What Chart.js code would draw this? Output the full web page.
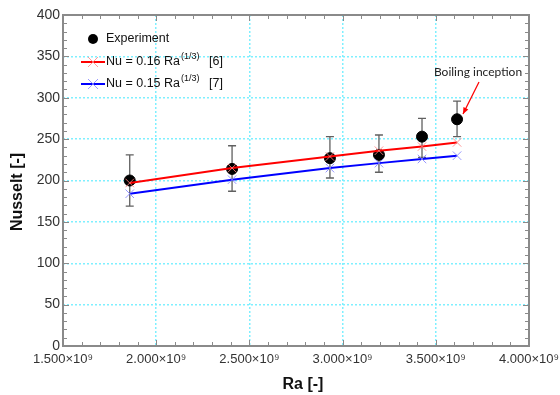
<!DOCTYPE html>
<html>
<head>
<meta charset="utf-8">
<script src="https://cdn.jsdelivr.net/npm/chart.js@4/dist/chart.umd.min.js"></script>
<style>
  html, body { margin: 0; padding: 0; background: #fff; }
  #wrap { width: 560px; height: 395px; position: relative; }
</style>
</head>
<body>
<div id="wrap"><canvas id="chart"></canvas></div>
<script>
// values
const raValues     = [1.858e9, 2.407e9, 2.932e9, 3.195e9, 3.426e9, 3.614e9]
const nuExperiment = [200, 214, 227, 231, 253, 274]
const nuErrLow     = [169, 187, 203, 210, 228, 253]
const nuErrHigh    = [231, 242, 253, 255, 275, 296]
const nuCorr6      = [197, 215, 229, 236, 241, 246]   // Nu = 0.16 Ra^(1/3)
const nuCorr7      = [184, 201, 215, 221, 226, 230]   // Nu = 0.15 Ra^(1/3)

const seriesNames  = ["Experiment", "Nu = 0.16 Ra", "Nu = 0.15 Ra"]
const seriesRefs   = ["", "[6]", "[7]"]
const xTitle = "Ra [-]"
const yTitle = "Nusselt [-]"
const noteText = "Boiling inception"

const FONT = "'Liberation Sans', Arial, sans-serif"
const frameColor = "#8a8a8a"

const pts = (ys) => raValues.map((x, i) => ({ x, y: ys[i] }))

// error bars under the experiment dots
const errorBars = {
  id: "errorBars",
  beforeDatasetsDraw(chart) {
    const { ctx, scales: { x, y } } = chart
    ctx.save()
    ctx.strokeStyle = "#606060"
    ctx.lineWidth = 1.3
    raValues.forEach((ra, i) => {
      const px = x.getPixelForValue(ra)
      const top = y.getPixelForValue(nuErrHigh[i])
      const bot = y.getPixelForValue(nuErrLow[i])
      ctx.beginPath()
      ctx.moveTo(px, top); ctx.lineTo(px, bot)
      ctx.moveTo(px - 4, top); ctx.lineTo(px + 4, top)
      ctx.moveTo(px - 4, bot); ctx.lineTo(px + 4, bot)
      ctx.stroke()
    })
    ctx.restore()
  }
}

// box frame, inward minor ticks, legend, titles and the annotation
const decorations = {
  id: "decorations",
  afterDraw(chart) {
    const { ctx, chartArea: a, scales: { x, y } } = chart
    ctx.save()

    // inward ticks
    ctx.strokeStyle = frameColor
    ctx.lineWidth = 1
    ctx.beginPath()
    for (let v = 0; v <= 400; v += 10) {
      const py = Math.round(y.getPixelForValue(v)) + 0.5
      const len = v % 50 === 0 ? 6 : 4
      ctx.moveTo(a.left, py); ctx.lineTo(a.left + len, py)
      ctx.moveTo(a.right, py); ctx.lineTo(a.right - len, py)
    }
    for (let v = 15; v <= 40; v += 1) {
      const px = Math.round(x.getPixelForValue(v * 1e8)) + 0.5
      const len = v % 5 === 0 ? 6 : 4
      ctx.moveTo(px, a.bottom); ctx.lineTo(px, a.bottom - len)
      ctx.moveTo(px, a.top); ctx.lineTo(px, a.top + len)
    }
    ctx.stroke()

    // frame
    ctx.lineWidth = 2
    ctx.strokeRect(a.left, a.top, a.right - a.left, a.bottom - a.top)

    // legend
    const lx = 93
    const rows = [39, 62, 84]
    ctx.fillStyle = "#000"
    ctx.beginPath(); ctx.arc(lx, rows[0], 5, 0, Math.PI * 2); ctx.fill()
    const lineCols = ["#ff0000", "#0000ff"]
    const markCols = ["rgba(255,130,130,0.8)", "rgba(130,130,255,0.8)"]
    for (let k = 0; k < 2; k++) {
      const ry = rows[k + 1]
      ctx.strokeStyle = lineCols[k]; ctx.lineWidth = 2
      ctx.beginPath(); ctx.moveTo(81, ry); ctx.lineTo(105, ry); ctx.stroke()
      ctx.strokeStyle = markCols[k]; ctx.lineWidth = 1
      ctx.beginPath()
      ctx.moveTo(lx - 5, ry - 5); ctx.lineTo(lx + 5, ry + 5)
      ctx.moveTo(lx - 5, ry + 5); ctx.lineTo(lx + 5, ry - 5)
      ctx.stroke()
    }
    ctx.fillStyle = "#111"
    ctx.textBaseline = "middle"
    ctx.textAlign = "left"
    ctx.font = "12.5px " + FONT
    ctx.fillText(seriesNames[0], 106, rows[0])
    for (let k = 1; k < 3; k++) {
      const ry = rows[k]
      ctx.font = "12.5px " + FONT
      ctx.fillText(seriesNames[k], 106, ry)
      const w = ctx.measureText(seriesNames[k]).width
      ctx.font = "9px " + FONT
      ctx.fillText("(1/3)", 106 + w + 1, ry - 5)
      ctx.font = "12.5px " + FONT
      ctx.fillText(seriesRefs[k], 209, ry)
    }

    // axis titles
    ctx.fillStyle = "#111"
    ctx.font = "bold 16px " + FONT
    ctx.textAlign = "center"
    ctx.fillText(xTitle, 303, 385)
    ctx.save()
    ctx.translate(18, 192)
    ctx.rotate(-Math.PI / 2)
    ctx.fillText(yTitle, 0, 0)
    ctx.restore()

    // annotation with arrow
    ctx.font = "12px Lato, 'Open Sans', sans-serif"
    ctx.fillStyle = "#222"
    ctx.fillText(noteText, 478, 72)
    const x0 = 479, y0 = 82, x1 = 463, y1 = 114
    ctx.strokeStyle = "#ff0000"; ctx.fillStyle = "#ff0000"; ctx.lineWidth = 1.2
    ctx.beginPath(); ctx.moveTo(x0, y0); ctx.lineTo(x1, y1); ctx.stroke()
    const ang = Math.atan2(y1 - y0, x1 - x0)
    ctx.beginPath()
    ctx.moveTo(x1, y1)
    ctx.lineTo(x1 - 7 * Math.cos(ang - 0.4), y1 - 7 * Math.sin(ang - 0.4))
    ctx.lineTo(x1 - 7 * Math.cos(ang + 0.4), y1 - 7 * Math.sin(ang + 0.4))
    ctx.closePath(); ctx.fill()

    ctx.restore()
  }
}

const gridColor = (ctx, lo, hi) => {
  const v = ctx.tick && ctx.tick.value
  return (v === lo || v === hi) ? "rgba(0,0,0,0)" : "#7ff0ff"
}

new Chart(document.getElementById("chart"), {
  type: "scatter",
  data: {
    datasets: [
      {
        label: seriesNames[0],
        data: pts(nuExperiment),
        backgroundColor: "#000",
        borderColor: "#000",
        pointRadius: 5.5,
        order: 3
      },
      {
        type: "line",
        label: seriesNames[1],
        data: pts(nuCorr6),
        borderColor: "#ff0000",
        borderWidth: 2,
        pointStyle: "crossRot",
        pointRadius: 6,
        pointBorderWidth: 1,
        pointBorderColor: "rgba(255,130,130,0.85)",
        fill: false,
        tension: 0,
        order: 1
      },
      {
        type: "line",
        label: seriesNames[2],
        data: pts(nuCorr7),
        borderColor: "#0000ff",
        borderWidth: 2,
        pointStyle: "crossRot",
        pointRadius: 6,
        pointBorderWidth: 1,
        pointBorderColor: "rgba(130,130,255,0.85)",
        fill: false,
        tension: 0,
        order: 2
      }
    ]
  },
  options: {
    responsive: true,
    maintainAspectRatio: false,
    animation: false,
    layout: { padding: { left: 0, right: 31, top: 15, bottom: 0 } },
    plugins: { legend: { display: false }, tooltip: { enabled: false } },
    scales: {
      x: {
        type: "linear",
        min: 1.5e9, max: 4.0e9,
        ticks: {
          stepSize: 0.5e9,
          autoSkip: false,
          maxRotation: 0,
          padding: 6,
          color: "#333",
          font: { family: FONT, size: 13 },
          callback: (v) => (v / 1e9).toFixed(3) + "×10⁹"
        },
        grid: { color: (c) => gridColor(c, 1.5e9, 4.0e9), drawTicks: false, lineWidth: 1.5 },
        border: { display: false, dash: [2, 2] },
        afterFit: (s) => { s.height = 49; s.paddingLeft = 0; s.paddingRight = 0 }
      },
      y: {
        min: 0, max: 400,
        ticks: {
          stepSize: 50,
          padding: 3,
          color: "#333",
          font: { family: FONT, size: 14 }
        },
        grid: { color: (c) => gridColor(c, 0, 400), drawTicks: false, lineWidth: 1.5 },
        border: { display: false, dash: [2, 2] },
        afterFit: (s) => { s.width = 63 }
      }
    }
  },
  plugins: [errorBars, decorations]
})
</script>
</body>
</html>
